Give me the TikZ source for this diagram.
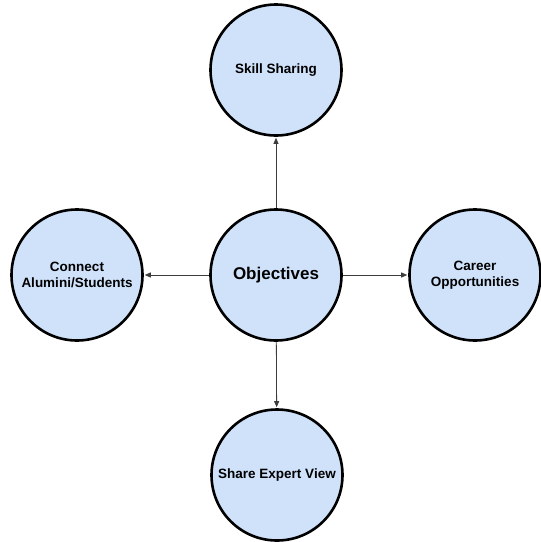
\documentclass[tikz,border=0pt]{standalone}
\usepackage{fontspec}
\setmainfont{Liberation Sans}
\usetikzlibrary{arrows.meta}
\definecolor{bubble}{RGB}{207,226,250}
\definecolor{linkgray}{RGB}{60,60,60}
\begin{document}
\begin{tikzpicture}[x = 1pt, y = 1pt,
  goal/.style = {circle, draw, line width = 2.6pt, fill = bubble, minimum size = 131pt,
    inner sep = 0pt, align = center, font = \bfseries\fontsize{13.5}{15.7}\selectfont},
  link/.style = {draw = linkgray, line width = 0.8pt, shorten > = 1pt,
    -{Triangle[length = 6pt, width = 5pt]}}]
\useasboundingbox (0, 0) rectangle (541, -542);
\node [goal, font = \bfseries\fontsize{17}{20}\selectfont] (obj) at (276, -275) {Objectives};
\node [goal] (skill) at (276, -70) {Skill Sharing};
\node [goal] (connect) at (77, -275) {Connect\\Alumini/Students};
\node [goal] (career) at (475, -275) {Career\\Opportunities};
\node [goal] (expert) at (277, -475) {Share Expert View};
\draw [link] (obj) -- (skill);
\draw [link] (obj) -- (connect);
\draw [link] (obj) -- (career);
\draw [link] (obj) -- (expert);
\end{tikzpicture}
\end{document}
